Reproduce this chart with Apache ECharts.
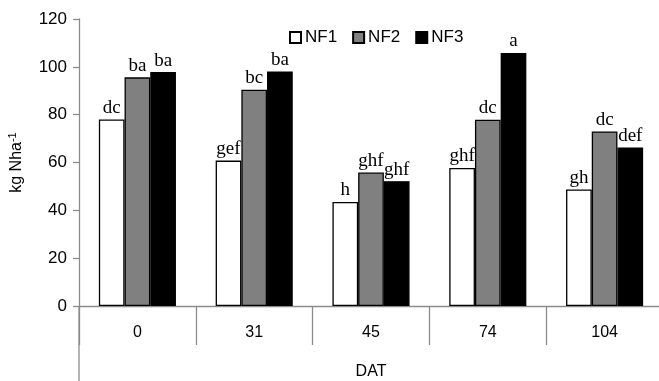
<!DOCTYPE html>
<html>
<head>
<meta charset="utf-8">
<script src="https://cdn.jsdelivr.net/npm/echarts@6/dist/echarts.min.js"></script>
<style>
  html, body { margin: 0; padding: 0; background: #fff; }
  #chart { width: 659px; height: 381px; }
</style>
</head>
<body>
<div id="chart"></div>
<script>
// DAT categories and N uptake (kg N ha-1) per treatment
const categories = ["0", "31", "45", "74", "104"];
const nf1 = [78, 60.8, 43.5, 57.7, 48.7];
const nf2 = [95.6, 90.4, 55.8, 77.9, 73];
const nf3 = [97.8, 98.1, 52.2, 105.8, 66.3];
// significance letters above each bar
const nf1Letters = ["dc", "gef", "h", "ghf", "gh"];
const nf2Letters = ["ba", "bc", "ghf", "dc", "dc"];
const nf3Letters = ["ba", "ba", "ghf", "a", "def"];

const chart = echarts.init(document.getElementById("chart"));

const sans = "Liberation Sans";
const serif = "Liberation Serif";

const barSeries = (name, data, letters, color) => ({
  name,
  type: "bar",
  data,
  barGap: "0%",
  barCategoryGap: "34%",
  itemStyle: { color, borderColor: "#000", borderWidth: 1.3 },
  label: {
    show: true,
    position: "top",
    distance: 2,
    fontFamily: serif,
    fontSize: 19,
    color: "#000",
    formatter: (p) => letters[p.dataIndex],
  },
});

chart.setOption({
  animation: false,
  grid: { left: 79, top: 19, width: 584, height: 287, containLabel: false, outerBoundsMode: "none" },
  legend: {
    top: 24,
    left: 284,
    itemWidth: 11,
    itemHeight: 11,
    itemGap: 15,
    icon: "rect",
    textStyle: { fontFamily: sans, fontSize: 17, color: "#000", padding: [0, 0, 0, -1] },
    data: ["NF1", "NF2", "NF3"],
  },
  xAxis: {
    type: "category",
    data: categories,
    name: "DAT",
    nameLocation: "middle",
    nameGap: 58,
    nameTextStyle: { fontFamily: sans, fontSize: 16, color: "#000" },
    axisLine: { lineStyle: { color: "#8c8c8c", width: 1.3 } },
    axisTick: { show: true, length: 39, lineStyle: { color: "#8c8c8c", width: 1.3 } },
    axisLabel: { fontFamily: sans, fontSize: 16, color: "#000", margin: 19 },
  },
  yAxis: {
    type: "value",
    min: 0,
    max: 120,
    interval: 20,
    name: "{a|kg Nha}{b|-1}",
    nameLocation: "middle",
    nameGap: 53,
    nameTextStyle: {
      fontFamily: sans,
      fontSize: 16,
      color: "#000",
      rich: {
        a: { fontFamily: sans, fontSize: 16, color: "#000" },
        b: { fontFamily: sans, fontSize: 11, color: "#000", verticalAlign: "top", padding: [0, 0, 8, 0] },
      },
    },
    splitLine: { show: false },
    axisLine: { show: true, lineStyle: { color: "#8c8c8c", width: 1.3 } },
    axisTick: { show: true, length: 6, lineStyle: { color: "#8c8c8c", width: 1.3 } },
    axisLabel: { fontFamily: sans, fontSize: 17, color: "#000", margin: 12 },
  },
  graphic: [
    {
      type: "line",
      shape: { x1: 79, y1: 306, x2: 79, y2: 381 },
      style: { stroke: "#8c8c8c", lineWidth: 1.3 },
    },
  ],
  series: [
    barSeries("NF1", nf1, nf1Letters, "#ffffff"),
    barSeries("NF2", nf2, nf2Letters, "#808080"),
    barSeries("NF3", nf3, nf3Letters, "#000000"),
  ],
});
</script>
</body>
</html>
